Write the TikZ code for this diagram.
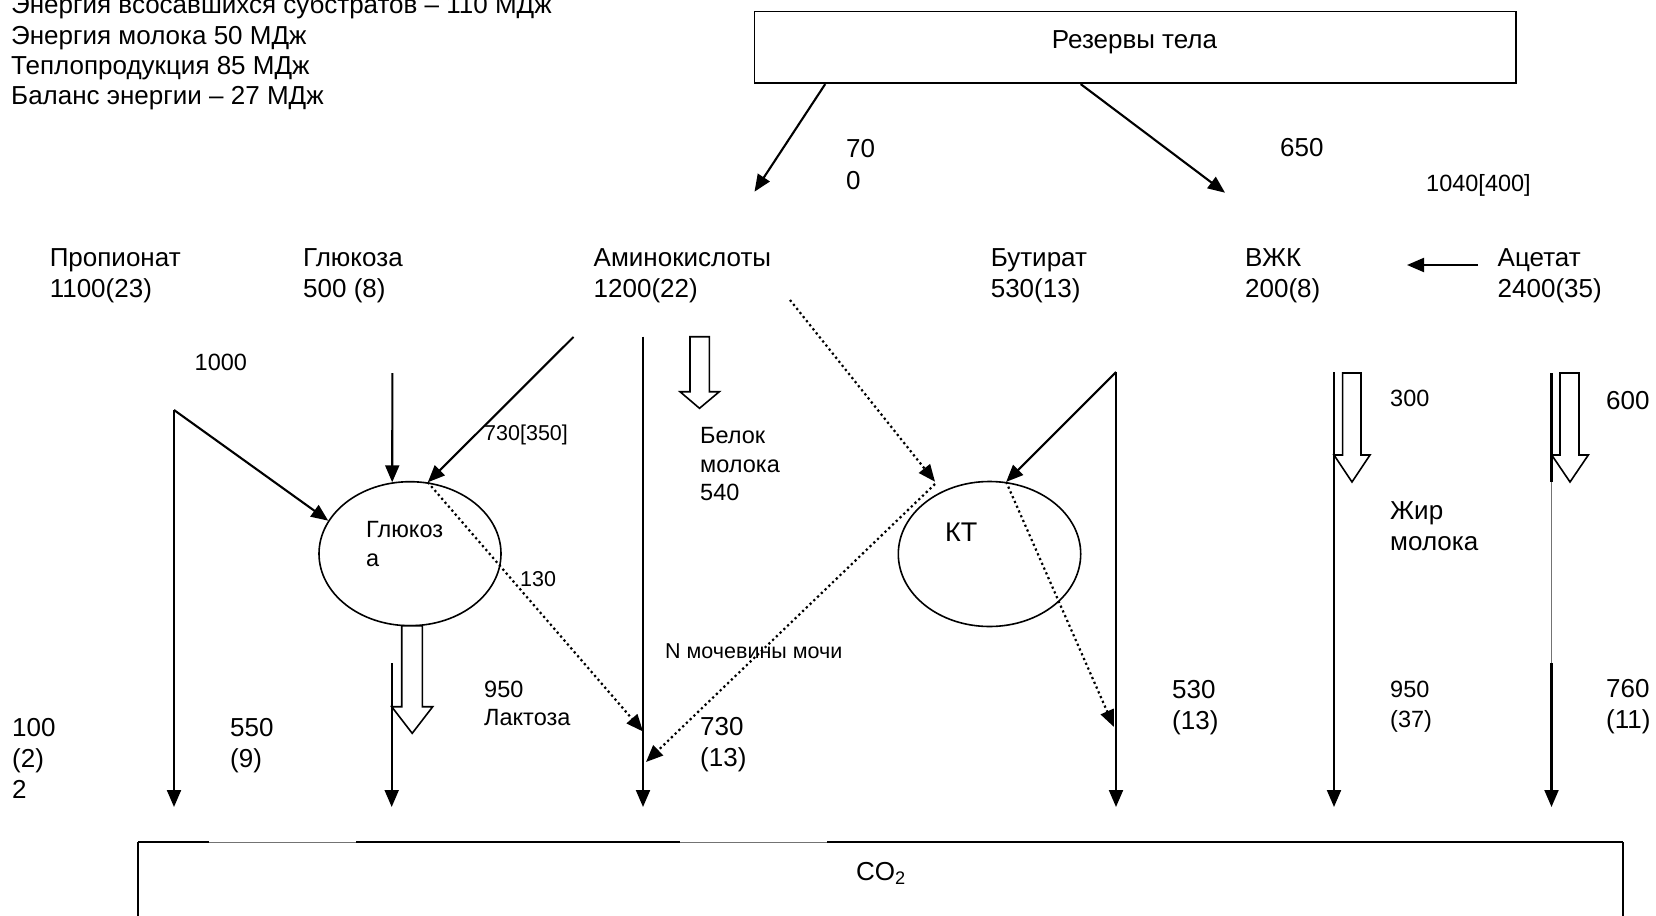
\documentclass[tikz,border=0pt]{standalone}
\usepackage{fontspec}
\setmainfont{Liberation Sans}
\usetikzlibrary{arrows.meta,shapes.geometric}
\begin{document}
\begin{tikzpicture}[x=1pt,y=-1pt,
  t26/.style={font=\fontsize{26}{31}\selectfont, inner sep=0pt, anchor=base west},
  t23/.style={font=\fontsize{23.5}{28}\selectfont, inner sep=0pt, anchor=base west},
  t21/.style={font=\fontsize{21.5}{26}\selectfont, inner sep=0pt, anchor=base west},
  arr/.style={line width=2.1pt, -{Triangle[width=14pt,length=17pt]}},
  dotarr/.style={line width=2.2pt, dash pattern=on 2.2pt off 3pt, -{Triangle[width=14pt,length=17pt]}},
  ell/.style={draw, ellipse, line width=1.6pt, inner sep=0pt},
  hollow/.style={draw, line width=1.6pt, fill=white, line join=miter},
  thinline/.style={line width=0.8pt, draw=black!55},
  boxline/.style={line width=2.1pt},
  sideline/.style={line width=1.3pt}]
\useasboundingbox (0,0) rectangle (1656,915);
\clip (0,0) rectangle (1656,915);

% ---- energy summary
\node[t26] (e1) at (11,14) {Энергия всосавшихся субстратов – 110 МДж};
\node[t26] (e2) at (11,44.5) {Энергия молока 50 МДж};
\node[t26] (e3) at (11,74.5) {Теплопродукция 85 МДж};
\node[t26] (e4) at (11,104.5) {Баланс энергии – 27 МДж};

% ---- body reserves
\node[draw, line width=1.6pt, inner sep=0pt, minimum width=761.5pt, minimum height=71.6pt] (rez) at (1135.25,47.5) {};
\node[t26, anchor=base] (reztxt) at (1134.5,48.5) {Резервы тела};
\coordinate (rzL) at (754.5,191.7);
\coordinate (rzR) at (1225,192.7);
\draw[arr] ([xshift=71.5pt]rez.south west) -- (rzL);
\draw[arr] ([xshift=327pt]rez.south west) -- (rzR);
\node[t26] (n70) at (846,157.4) {70};
\node[t26] (n0) at (846,189.4) {0};
\node[t26] (n650) at (1280,156) {650};
\node[t23] (n1040) at (1426,191.5) {1040[400]};

% ---- substrates
\node[t26] (prop1) at (49.6,266) {Пропионат};
\node[t26] (prop2) at (49.6,297) {1100(23)};
\node[t26] (glu1) at (303,266) {Глюкоза};
\node[t26] (glu2) at (303,297) {500 (8)};
\node[t26] (ami1) at (593.5,266) {Аминокислоты};
\node[t26] (ami2) at (593.5,297) {1200(22)};
\node[t26] (but1) at (990.6,266) {Бутират};
\node[t26] (but2) at (990.6,297) {530(13)};
\node[t26] (vzk1) at (1245,266) {ВЖК};
\node[t26] (vzk2) at (1245,297) {200(8)};
\node[t26] (ace1) at (1497.5,266) {Ацетат};
\node[t26] (ace2) at (1497.5,297) {2400(35)};
\coordinate (acS) at (1478,265);
\coordinate (acE) at (1407,265);
\draw[arr] (acS) -- (acE);

% ---- ellipses
\node[ell, minimum width=182pt, minimum height=144pt] (glc) at (410,553.7) {};
\node[ell, minimum width=182.4pt, minimum height=145pt] (kt) at (989.5,554) {};
\node[t23] (glcA) at (366,537.5) {Глюкоз};
\node[t23] (glcB) at (366,566) {а};
\node[font=\fontsize{27}{32}\selectfont, inner sep=0pt, anchor=base west] (kttxt) at (945,541.5) {КТ};

% ---- propionate column
\coordinate (pTop) at (174,410);
\coordinate (pBot) at (174,807);
\draw[arr] (pTop) -- (pBot);
\draw[arr] (pTop) -- (glc.158);
\node[t23] (n1000) at (194.5,370.8) {1000};

% ---- glucose column
\coordinate (gTop) at (392.4,373);
\draw[arr] (gTop) -- (glc.104);
\coordinate (gLow) at (391.7,663);
\coordinate (gBot) at (391.7,807);
\draw[arr] (gLow) -- (gBot);
\draw[hollow] (401.7,625.7) -- (401.7,706.7) -- (391.7,706.7) -- (412.2,733.3) -- (432.7,706.7) -- (422.3,706.7) -- (422.3,625.7) -- cycle;
\node[t23] (n950a) at (484,697) {950};
\node[t23] (lakt) at (484,725.5) {Лактоза};
\node[t21] (n130) at (520,586.7) {130};

% ---- amino acid column
\coordinate (aStart) at (573.5,337);
\draw[arr] (aStart) -- (glc.76);
\node[t21] (n730b) at (484,440.7) {730[350]};
\coordinate (aTop) at (643,336.7);
\coordinate (aBot) at (643,807);
\draw[arr] (aTop) -- (aBot);
\coordinate (aHit1) at (643,731.5);
\draw[dotarr] (glc.76) -- (aHit1);
\draw[hollow] (690,336.7) -- (690,391.7) -- (680,391.7) -- (699.5,408.3) -- (719.3,391.7) -- (709.3,391.7) -- (709.3,336.7) -- cycle;
\node[t23] (bel1) at (700,443.5) {Белок};
\node[t23] (bel2) at (700,472) {молока};
\node[t23] (bel3) at (700,500.5) {540};
\coordinate (aDot) at (790,300);
\coordinate (ktNW) at (935,481.7);
\draw[dotarr] (aDot) -- (ktNW);
\coordinate (ktNW2) at (935,484);
\coordinate (aHit2) at (646,762);
\draw[dotarr] (ktNW2) -- (aHit2);
\node[t21] (urea) at (665,658.7) {N мочевины мочи};
\node[t26] (n730) at (700,735) {730};
\node[t26] (n13a) at (700,766) {(13)};

% ---- butyrate column
\coordinate (bTop) at (1116,372);
\coordinate (bBot) at (1116,807);
\draw[arr] (bTop) -- (bBot);
\draw[arr] (bTop) -- (kt.77);
\coordinate (bHit) at (1114,727);
\draw[dotarr] (kt.77) -- (bHit);
\node[t26] (n530) at (1172,698.5) {530};
\node[t26] (n13b) at (1172,729.5) {(13)};

% ---- VZhK column
\coordinate (vTop) at (1334,372);
\coordinate (vBot) at (1334,807);
\draw[arr] (vTop) -- (vBot);
\draw[hollow] (1342.6,373) -- (1342.6,455) -- (1334,455) -- (1352,482) -- (1370,455) -- (1361,455) -- (1361,373) -- cycle;
\node[t23] (n300) at (1390,406.5) {300};
\node[t26] (fat1) at (1390,519.5) {Жир};
\node[t26] (fat2) at (1390,550) {молока};
\node[t23] (n950b) at (1390,697) {950};
\node[t23] (n37) at (1390,727) {(37)};

% ---- acetate column
\coordinate (cTop) at (1551.5,373);
\coordinate (cMid1) at (1551.5,482);
\coordinate (cMid2) at (1551.5,663);
\coordinate (cBot) at (1551.5,807);
\draw[boxline] (cTop) -- (cMid1);
\draw[thinline] (cMid1) -- (cMid2);
\draw[arr] (cMid2) -- (cBot);
\draw[hollow] (1560,373) -- (1560,455) -- (1551.7,455) -- (1570,482) -- (1588.3,455) -- (1579,455) -- (1579,373) -- cycle;
\node[t26] (n600) at (1606,409.4) {600};
\node[t26] (n760) at (1606,697.5) {760};
\node[t26] (n11) at (1606,728.5) {(11)};

% ---- left numbers
\node[t26] (n100) at (12,736) {100};
\node[t26] (n2a) at (12,767) {(2)};
\node[t26] (n2b) at (12,798) {2};
\node[t26] (n550) at (230,736) {550};
\node[t26] (n9) at (230,767) {(9)};

% ---- CO2 box
\draw[sideline] (138,842) -- (138,930);
\draw[sideline] (1623,842) -- (1623,930);
\draw[boxline] (138,842) -- (209,842);
\draw[boxline] (356,842) -- (680,842);
\draw[boxline] (827,842) -- (1623,842);
\draw[thinline] (209,842) -- (356,842);
\draw[thinline] (680,842) -- (827,842);
\node[t26] (co2) at (856,880) {CO\textsubscript{2}};
\end{tikzpicture}
\end{document}
